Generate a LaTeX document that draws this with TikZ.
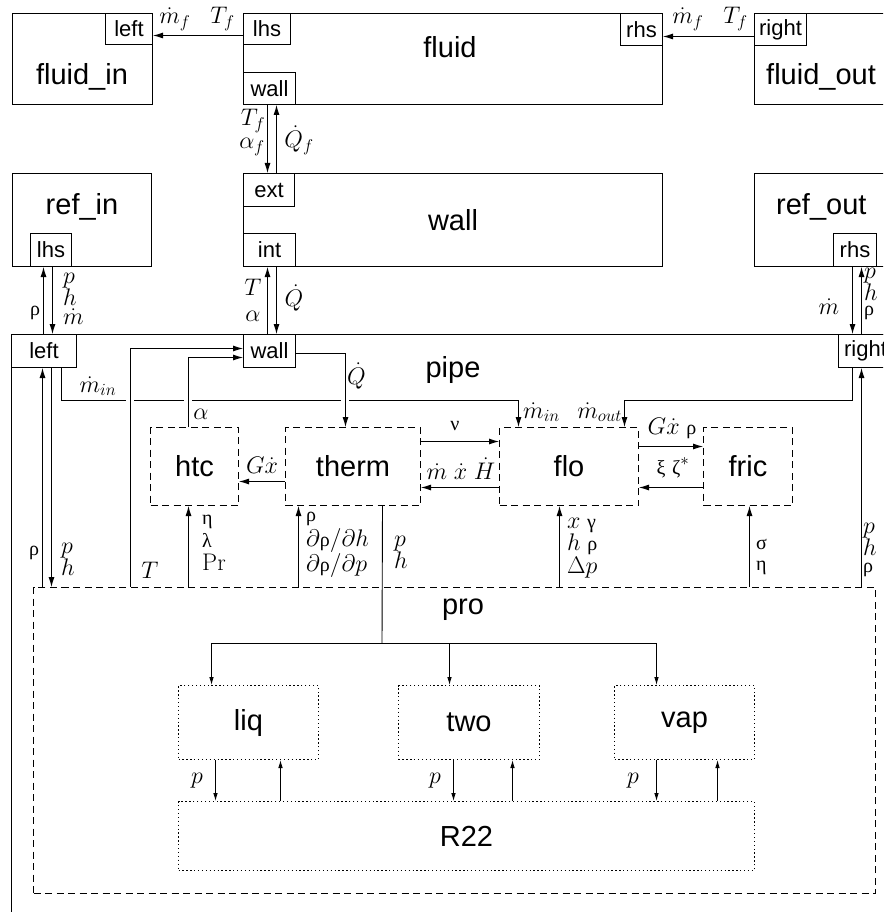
\RequirePackage{fix-cm}
\documentclass[tikz,border=0pt]{standalone}
\usepackage[no-math]{fontspec}
\setmainfont{Liberation Sans}
\newfontfamily\grkfont{Liberation Serif}
\usetikzlibrary{arrows.meta,calc}
\DeclareMathSizes{24}{24}{17}{12}
\newcommand\gk[1]{\mbox{\grkfont\fontsize{20}{20}\selectfont #1}}
\newcommand\bigfont{\fontsize{29}{32}\selectfont}
\newcommand\portfont{\fontsize{22}{24}\selectfont}
\newcommand\labfont{\fontsize{24}{24}\selectfont}
\tikzset{
 box/.style={draw, line width=1pt, inner sep=0pt, anchor=north west},
 port/.style={draw, line width=1pt, inner sep=0pt, anchor=north west, font=\portfont},
 dbox/.style={draw, line width=1pt, inner sep=0pt, anchor=north west, dash pattern=on 7pt off 4.5pt, font=\bigfont},
 obox/.style={draw, line width=1pt, inner sep=0pt, anchor=north west, dash pattern=on 1.3pt off 2.6pt, font=\bigfont},
 title/.style={font=\bigfont, inner sep=0pt},
 lab/.style={font=\labfont, inner sep=1pt},
 arr/.style={line width=0.9pt, -{Latex[length=10pt,width=6pt]}},
 sarr/.style={line width=0.8pt, -{Latex[length=8pt,width=4.5pt]}},
}
\begin{document}
\begin{tikzpicture}[x=1pt,y=-1pt]
\useasboundingbox (0,0) rectangle (883,912);
\clip (0,0) rectangle (883,912);
% ---- top row
\node[box, minimum width=140pt, minimum height=91pt] (fin) at (12,13) {};
\node[port, minimum width=47pt, minimum height=31pt] (finL) at (105,13) {left};
\node[title] (finT) at (82,77) {fluid\_in};
\node[box, minimum width=419pt, minimum height=91pt] (fl) at (243,13) {};
\node[port, minimum width=47pt, minimum height=31pt] (flL) at (243,13) {lhs};
\node[port, minimum width=52pt, minimum height=32pt] (flW) at (243,72) {wall};
\node[port, minimum width=42pt, minimum height=32pt] (flR) at (620,13) {rhs};
\node[title] (flT) at (450,47) {fluid};
\node[box, minimum width=220pt, minimum height=91pt] (fout) at (754,13) {};
\node[port, minimum width=52pt, minimum height=32pt] (foutR) at (754,13) {right};
\node[title, anchor=west] (foutT) at (766,77) {fluid\_out};
% ---- second row
\node[box, minimum width=139pt, minimum height=93pt] (rin) at (12,173) {};
\node[port, minimum width=41pt, minimum height=33pt] (rinL) at (30,233) {lhs};
\node[title] (rinT) at (82,207) {ref\_in};
\node[box, minimum width=419pt, minimum height=93pt] (wl) at (243,173) {};
\node[port, minimum width=51pt, minimum height=33pt] (wlE) at (243,173) {ext};
\node[port, minimum width=52pt, minimum height=33pt] (wlI) at (243,233) {int};
\node[title] (wlT) at (453,220) {wall};
\node[box, minimum width=220pt, minimum height=93pt] (rout) at (754,173) {};
\node[port, minimum width=43pt, minimum height=33pt] (routR) at (833,233) {rhs};
\node[title, anchor=west] (routT) at (776,207) {ref\_out};
% ---- pipe
\node[box, minimum width=950pt, minimum height=700pt] (pp) at (11,334) {};
\node[port, minimum width=65pt, minimum height=33pt] (ppL) at (11,334) {left};
\node[port, minimum width=52pt, minimum height=33pt] (ppW) at (243,334) {wall};
\node[port, minimum width=54pt, minimum height=33pt] (ppR) at (838,334) {right};
\node[title] (ppT) at (453,370) {pipe};
\node[dbox, minimum width=88pt, minimum height=78pt] (htc) at (150,427) {htc};
\node[dbox, minimum width=135pt, minimum height=78pt] (therm) at (285,427) {therm};
\node[dbox, minimum width=139pt, minimum height=78pt] (flo) at (499,427) {flo};
\node[dbox, minimum width=89pt, minimum height=78pt] (fric) at (703,427) {fric};
\node[dbox, minimum width=842pt, minimum height=306pt] (pro) at (33,587) {};
\node[title] (proT) at (463,610) {pro};
\node[obox, minimum width=140pt, minimum height=74pt] (liq) at (178,685) {liq};
\node[obox, minimum width=141pt, minimum height=74pt] (two) at (398,685) {two};
\node[obox, minimum width=140pt, minimum height=74pt] (vap) at (614,685) {vap};
\node[obox, minimum width=576pt, minimum height=69pt] (r22) at (178,801) {R22};
% ---- fluid connectors
\draw[arr] ([yshift=-6.5]flL.west) -- ([yshift=-6.5]finL.east);
\node[lab] (l1) at (197,19) {$\dot m_f\;\;\; T_f$};
\draw[arr] ([yshift=-7]foutR.west) -- ([yshift=-7]flR.east);
\node[lab] (l2) at (710,19) {$\dot m_f\;\;\; T_f$};
\draw[arr] ([xshift=-2]flW.south) -- ([xshift=-2]flW.south |- wlE.north);
\draw[arr] ([xshift=7]flW.south |- wlE.north) -- ([xshift=7]flW.south);
\node[lab] (l3a) at (253,121) {$T_f$};
\node[lab] (l3b) at (252,147) {$\alpha_f$};
\node[lab] (l4) at (299,140) {$\dot Q_f$};
% ---- wall / pipe
\draw[arr] ([xshift=-2]wlI.south |- ppW.north) -- ([xshift=-2]wlI.south);
\draw[arr] ([xshift=7]wlI.south) -- ([xshift=7]wlI.south |- ppW.north);
\node[lab] (l5a) at (253,287) {$T$};
\node[lab] (l5b) at (253,316) {$\alpha$};
\node[lab] (l6) at (294,298) {$\dot Q$};
% ---- ref_in / pipe.left
\draw[arr] ([xshift=-7.5]rinL.south |- ppL.north) -- ([xshift=-7.5]rinL.south);
\draw[arr] ([xshift=1.5]rinL.south) -- ([xshift=1.5]rinL.south |- ppL.north);
\node[lab] (l7a) at (35,313) {\gk{ρ}};
\node[lab, anchor=west, align=left, font={\fontsize{24}{19}\selectfont}] (l7b) at (62,299) {$p$\\$h$\\$\dot m$};
% ---- ref_out / pipe.right
\draw[arr] ([xshift=-2.5]routR.south) -- ([xshift=-2.5]routR.south |- ppR.north);
\draw[arr] ([xshift=6.5]routR.south |- ppR.north) -- ([xshift=6.5]routR.south);
\node[lab] (l8a) at (829,307) {$\dot m$};
\node[lab, anchor=west, align=left, font={\fontsize{24}{15.5}\selectfont}] (l8b) at (863,294) {$p$\\$h$\\\gk{ρ}};
% ---- mass flows in the pipe
\draw[arr] ([xshift=17.5]ppL.south) -- ++(0,32) -| ([xshift=-50.5]flo.north);
\node[lab] (l9) at (98,386) {$\dot m_{in}$};
\draw[arr] ([xshift=-13]ppR.south) -- ++(0,32) -| ([xshift=55.5]flo.north);
\node[lab, anchor=west] (l10a) at (522,412) {$\dot m_{in}$};
\node[lab, anchor=east] (l10b) at (623,412) {$\dot m_{out}$};
\fill[white] (126,396) rectangle (134,402);
\fill[white] (184,396) rectangle (192,402);
\fill[white] (341,396) rectangle (349,402);
% ---- to / from pipe.wall
\draw[arr] ([xshift=97]pro.north west) |- ([yshift=2.5]ppW.west);
\node[lab] (l25) at (150,570) {$T$};
\draw[arr] ([xshift=-6]htc.north) |- ([yshift=-6.5]ppW.west);
\node[lab] (l11) at (201,414) {$\alpha$};
\draw[arr] ([yshift=-2.5]ppW.east) -| ([xshift=-7.5]therm.north);
\node[lab, anchor=west] (l12) at (346,376) {$\dot Q$};
% ---- between the blocks
\draw[arr] ([yshift=-15]therm.west) -- ([yshift=-15]htc.east);
\node[lab] (l13) at (262,465) {$G\dot x$};
\draw[arr] ([yshift=25]therm.east) -- ([yshift=25]flo.west);
\node[lab] (l14) at (455,426) {\gk{ν}};
\draw[arr] ([yshift=-21]flo.west) -- ([yshift=-21]therm.east);
\node[lab] (l15) at (461,469) {$\dot m\; \dot x\; \dot H$};
\draw[arr] ([yshift=20]flo.east) -- ([yshift=20]fric.west);
\node[lab] (l16) at (672,428) {$G\dot x\;\gk{ρ}$};
\draw[arr] ([yshift=-21]fric.west) -- ([yshift=-21]flo.east);
\node[lab] (l17) at (673,468) {$\gk{ξ}\;\gk{ζ}^*$};
% ---- from pro upwards
\draw[arr] ([xshift=-6]htc.south |- pro.north) -- ([xshift=-6]htc.south);
\node[lab, anchor=west, align=left, font={\fontsize{24}{23}\selectfont}] (l18) at (201,543) {\gk{η}\\\gk{λ}\\$\mathrm{Pr}$};
\draw[arr] ([xshift=-54.5]therm.south |- pro.north) -- ([xshift=-54.5]therm.south);
\node[lab, anchor=west, align=left, font={\fontsize{24}{25}\selectfont}] (l19) at (305,545) {\gk{ρ}\\$\partial\gk{ρ}/\partial h$\\$\partial\gk{ρ}/\partial p$};
\draw[arr] ([xshift=-9.5]flo.south |- pro.north) -- ([xshift=-9.5]flo.south);
\node[lab, anchor=west, align=left, font={\fontsize{24}{22.5}\selectfont}] (l21) at (566,548) {$x\;\gk{γ}$\\$h\;\gk{ρ}$\\$\Delta p$};
\draw[arr] ([xshift=1.5]fric.south |- pro.north) -- ([xshift=1.5]fric.south);
\node[lab, anchor=west, align=left, font={\fontsize{24}{21}\selectfont}] (l22) at (755,557) {\gk{σ}\\\gk{η}};
\draw[arr] ([xshift=-4]ppR.south |- pro.north) -- ([xshift=-4]ppR.south);
\node[lab, anchor=west, align=left, font={\fontsize{24}{17.5}\selectfont}] (l23) at (862,550) {$p$\\$h$\\\gk{ρ}};
\draw[arr] ([xshift=-1.5]ppL.south |- pro.north) -- ([xshift=-1.5]ppL.south);
\draw[arr] ([xshift=7.5]ppL.south) -- ([xshift=7.5]ppL.south |- pro.north);
\node[lab] (l24a) at (34,553) {\gk{ρ}};
\node[lab, anchor=west, align=left, font={\fontsize{24}{16}\selectfont}] (l24b) at (60,559) {$p$\\$h$};
% ---- therm to the property blocks
\coordinate (br) at (382,643);
\draw[line width=0.9pt] ([xshift=29.5]therm.south) -- (br);
\node[lab, anchor=west, align=left, font={\fontsize{24}{20}\selectfont}] (l20) at (393,552) {$p$\\$h$};
\draw[sarr] (br) -| ([xshift=-37]liq.north);
\draw[sarr] (br) -| ([xshift=-19.5]two.north);
\draw[sarr] (br) -| ([xshift=-28]vap.north);
% ---- property blocks to R22
\draw[sarr] ([xshift=-33]liq.south) -- ([xshift=-33]liq.south |- r22.north);
\draw[sarr] ([xshift=32]liq.south |- r22.north) -- ([xshift=32]liq.south);
\node[lab] (l26) at (197,781) {$p$};
\draw[sarr] ([xshift=-15.5]two.south) -- ([xshift=-15.5]two.south |- r22.north);
\draw[sarr] ([xshift=43.5]two.south |- r22.north) -- ([xshift=43.5]two.south);
\node[lab] (l27) at (435,781) {$p$};
\draw[sarr] ([xshift=-28]vap.south) -- ([xshift=-28]vap.south |- r22.north);
\draw[sarr] ([xshift=33]vap.south |- r22.north) -- ([xshift=33]vap.south);
\node[lab] (l28) at (633,781) {$p$};
\end{tikzpicture}
\end{document}
